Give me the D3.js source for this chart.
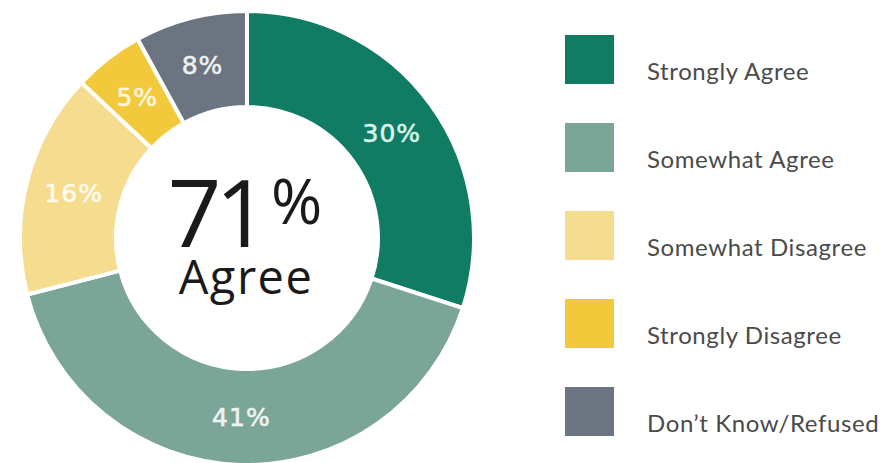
<!DOCTYPE html>
<html>
<head>
<meta charset="utf-8">
<script src="https://cdn.jsdelivr.net/npm/d3@7/dist/d3.min.js"></script>
<style>
  html, body { margin: 0; padding: 0; background: #ffffff; }
  svg { display: block; }
</style>
</head>
<body>
<svg id="chart" width="885" height="463"></svg>
<script>
// Survey response shares, in percent
const categories = ["Strongly Agree", "Somewhat Agree", "Somewhat Disagree", "Strongly Disagree", "Don\u2019t Know/Refused"];
const values = [30, 41, 16, 5, 8];
const colors = ["#0f7c63", "#7aa597", "#f6dc8e", "#f3c93c", "#6b7480"];
const labelColors = ["#d6f3ec", "#eef4f1", "#fffbee", "#fff6dc", "#eef0f2"];
const centerValue = "71";
const centerUnit = "%";
const centerCaption = "Agree";

const svg = d3.select("#chart");
const cx = 247, cy = 238, outerR = 227, innerR = 131;

const pie = d3.pie().sort(null).value(d => d.value).startAngle(0).endAngle(2 * Math.PI);
const arcs = pie(categories.map((c, i) => ({ name: c, value: values[i], i })));

const arc = d3.arc().innerRadius(innerR).outerRadius(outerR);
const labelArc = d3.arc().innerRadius((innerR + outerR) / 2).outerRadius((innerR + outerR) / 2);

const g = svg.append("g").attr("transform", `translate(${cx},${cy})`);

g.selectAll("path.slice")
  .data(arcs)
  .join("path")
  .attr("class", "slice")
  .attr("d", arc)
  .attr("fill", d => colors[d.data.i])
  .attr("stroke", "#ffffff")
  .attr("stroke-width", 4)
  .attr("stroke-linejoin", "miter");

g.selectAll("text.pct")
  .data(arcs)
  .join("text")
  .attr("class", "pct")
  .attr("transform", d => {
    const [x, y] = labelArc.centroid(d);
    return `translate(${x},${y})`;
  })
  .attr("text-anchor", "middle")
  .attr("dy", "0.36em")
  .attr("font-family", "'DejaVu Sans', sans-serif")
  .attr("font-size", 25)
  .attr("letter-spacing", 1)
  .attr("stroke", d => labelColors[d.data.i])
  .attr("stroke-width", 0.6)
  .attr("fill", d => labelColors[d.data.i])
  .text(d => d.data.value + "%");

// Centre summary
const big = g.append("text")
  .attr("x", -2)
  .attr("y", 9)
  .attr("text-anchor", "middle")
  .attr("font-family", "'Open Sans', sans-serif")
  .attr("fill", "#1a1a1a");
big.append("tspan")
  .attr("font-size", 94)
  .attr("letter-spacing", -6)
  .text(centerValue);
big.append("tspan")
  .attr("font-size", 62)
  .attr("dx", 8)
  .attr("dy", -23)
  .text(centerUnit);

g.append("text")
  .attr("x", -1)
  .attr("y", 56)
  .attr("text-anchor", "middle")
  .attr("font-family", "'Open Sans', sans-serif")
  .attr("font-size", 47)
  .attr("letter-spacing", 1.5)
  .attr("fill", "#1a1a1a")
  .text(centerCaption);

// Legend
const legendY = d3.scalePoint().domain(categories).range([35, 387]);
const legend = svg.append("g");
const item = legend.selectAll("g.item")
  .data(categories)
  .join("g")
  .attr("class", "item")
  .attr("transform", d => `translate(565,${legendY(d)})`);

item.append("rect")
  .attr("width", 49)
  .attr("height", 49)
  .attr("fill", (d, i) => colors[i]);

item.append("text")
  .attr("x", 82)
  .attr("y", 45)
  .attr("font-family", "Lato, sans-serif")
  .attr("font-size", 24)
  .attr("letter-spacing", 0.6)
  .attr("fill", "#4a4a4a")
  .text(d => d);
</script>
</body>
</html>
